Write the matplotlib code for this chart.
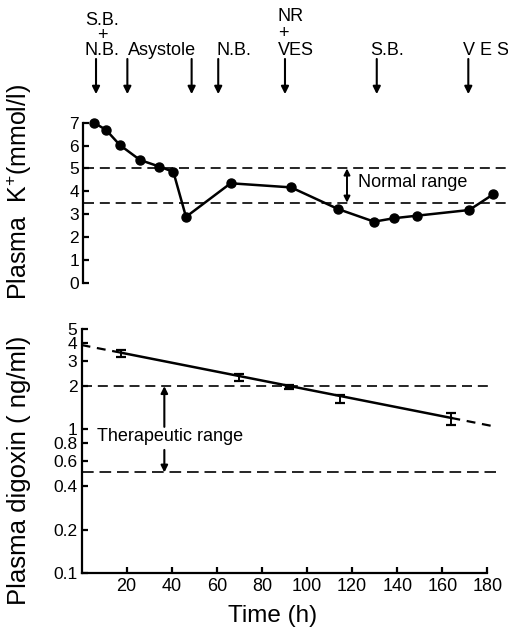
import matplotlib
matplotlib.use("Agg")
import matplotlib.pyplot as plt

plt.rcParams['font.family'] = ['Liberation Sans', 'DejaVu Sans']
plt.rcParams['mathtext.fontset'] = 'custom'
plt.rcParams['mathtext.rm'] = 'Liberation Sans'

# ---------------- data ----------------
k_time = [5.5, 10.8, 17.0, 25.9, 34.5, 40.7, 46.3, 66.1, 92.9, 113.8, 129.7, 138.5, 148.6, 171.9, 182.6]
k_value = [7.0, 6.69, 6.02, 5.37, 5.08, 4.85, 2.88, 4.35, 4.17, 3.22, 2.67, 2.82, 2.93, 3.18, 3.87]
normal_range = [3.5, 5.0]

event_times = [6.4, 20.3, 48.8, 60.6, 90.2, 130.9, 171.5]
event_labels = ["S.B.\n+\nN.B.", "Asystole", "N.B.", "NR\n+\nVES", "S.B.", "V E S"]

dig_time = [17.6, 69.6, 92.2, 114.8, 163.8]
dig_mean = [3.40, 2.30, 1.97, 1.63, 1.19]
dig_low = [3.21, 2.17, 1.90, 1.53, 1.08]
dig_high = [3.57, 2.42, 2.04, 1.73, 1.31]
fit_time = [0.0, 17.6, 164.0, 184.0]
fit_value = [3.87, 3.42, 1.20, 1.04]
therapeutic_range = [0.5, 2.0]

k_ticks = [0, 1, 2, 3, 4, 5, 6, 7]
dig_ticks = [0.1, 0.2, 0.4, 0.6, 0.8, 1, 2, 3, 4, 5]
dig_ticklabels = ["0.1", "0.2", "0.4", "0.6", "0.8", "1", "2", "3", "4", "5"]
time_ticks = [20, 40, 60, 80, 100, 120, 140, 160, 180]

# ---------------- figure ----------------
fig = plt.figure(figsize=(5.08, 6.29), dpi=100)
fig.patch.set_facecolor('white')

LW = 1.6
ANN = 13

# ---------- top panel ----------
ax1 = fig.add_axes([0.1606, 0.5506, 0.799, 0.2543])
ax1.set_xlim(0, 180)
ax1.set_ylim(0, 7)
for s in ['top', 'right', 'bottom']:
    ax1.spines[s].set_visible(False)
ax1.spines['left'].set_linewidth(LW)
ax1.spines['left'].set_position(('outward', -1.2))
ax1.set_xticks([])
ax1.set_yticks(k_ticks)
ax1.set_yticklabels([str(v) for v in k_ticks])
ax1.tick_params(axis='y', direction='in', length=4, width=LW, pad=3, labelsize=12.5)

for lvl in normal_range:
    ax1.plot([1, 188], [lvl, lvl], color='k', lw=1.2, dashes=(6, 3.5), clip_on=False)

ax1.plot(k_time, k_value, '-o', color='k', lw=1.8, ms=6.5, clip_on=False, zorder=5)

ax1.annotate('', xy=(117.7, normal_range[1]), xytext=(117.7, normal_range[0]),
             arrowprops=dict(arrowstyle='<|-|>', color='k', lw=1.4, mutation_scale=9,
                             shrinkA=0, shrinkB=0))
ax1.text(122.7, 4.37, "Normal range", fontsize=ANN, va='center', ha='left')

for t in event_times:
    ax1.annotate('', xy=(t, 8.25), xytext=(t, 9.79),
                 arrowprops=dict(arrowstyle='-|>', color='k', lw=1.5, mutation_scale=11,
                                 shrinkA=0, shrinkB=0),
                 annotation_clip=False)

# (x, y_bottom, multialignment, linespacing)
label_layout = [
    (1.5, 9.80, 'center', 0.82),
    (20.7, 9.80, 'left', 1.0),
    (59.9, 9.80, 'left', 1.0),
    (87.1, 9.80, 'left', 1.0),
    (127.9, 9.80, 'left', 1.0),
    (169.3, 9.80, 'left', 1.0),
]
for lab, (x, y, ma, ls) in zip(event_labels, label_layout):
    ax1.text(x, y, lab, fontsize=ANN, ha='left', va='bottom', multialignment=ma,
             linespacing=ls, clip_on=False)

# ---------- bottom panel ----------
ax2 = fig.add_axes([0.1606, 0.0895, 0.799, 0.3873])
ax2.set_yscale('log')
ax2.set_xlim(0, 180)
ax2.set_ylim(0.1, 5)
for s in ['top', 'right']:
    ax2.spines[s].set_visible(False)
for s in ['left', 'bottom']:
    ax2.spines[s].set_linewidth(LW)
ax2.set_yticks(dig_ticks)
ax2.set_yticklabels(dig_ticklabels)
ax2.yaxis.set_minor_locator(matplotlib.ticker.NullLocator())
ax2.set_xticks(time_ticks)
ax2.set_xticklabels([str(v) for v in time_ticks])
ax2.tick_params(axis='y', direction='in', length=4, width=LW, pad=3, labelsize=12.5)
ax2.tick_params(axis='x', direction='in', length=4, width=LW, pad=4, labelsize=13)

ax2.plot([0, 182], [therapeutic_range[1]] * 2, color='k', lw=1.2, dashes=(6, 3.5), clip_on=False)
ax2.plot([0, 184], [therapeutic_range[0]] * 2, color='k', lw=1.2, dashes=(7, 3.5), clip_on=False)

ax2.plot(fit_time[1:3], fit_value[1:3], color='k', lw=1.8, clip_on=False)
ax2.plot(fit_time[0:2], fit_value[0:2], color='k', lw=1.6, dashes=(4, 3), clip_on=False)
ax2.plot(fit_time[2:4], fit_value[2:4], color='k', lw=1.6, dashes=(4, 3), clip_on=False)

yerr = [[m - l for m, l in zip(dig_mean, dig_low)], [h - m for m, h in zip(dig_mean, dig_high)]]
ax2.errorbar(dig_time, dig_mean, yerr=yerr, fmt='none', ecolor='k', elinewidth=1.4,
             capsize=3.5, capthick=1.6, zorder=6)
ax2.vlines(dig_time[2], dig_low[2], dig_high[2], color='k', lw=6, zorder=6)

ax2.annotate('', xy=(36.7, therapeutic_range[1]), xytext=(36.7, 1.04),
             arrowprops=dict(arrowstyle='-|>', color='k', lw=1.5, mutation_scale=10,
                             shrinkA=0, shrinkB=0))
ax2.annotate('', xy=(36.7, therapeutic_range[0]), xytext=(36.7, 0.718),
             arrowprops=dict(arrowstyle='-|>', color='k', lw=1.5, mutation_scale=10,
                             shrinkA=0, shrinkB=0))
ax2.text(6.7, 0.887, "Therapeutic range", fontsize=ANN, va='center', ha='left')

# ---------- axis labels ----------
fig.text(0.038, 0.695, r"Plasma  K$\mathregular{^{+}}$(mmol/l)", rotation=90,
         fontsize=18, ha='center', va='center')
fig.text(0.038, 0.253, "Plasma digoxin ( ng/ml)", rotation=90,
         fontsize=18.5, ha='center', va='center')
fig.text(0.536, 0.0116, "Time (h)", fontsize=17.5, ha='center', va='baseline')

fig.savefig("out.png", dpi=100, facecolor='white')
